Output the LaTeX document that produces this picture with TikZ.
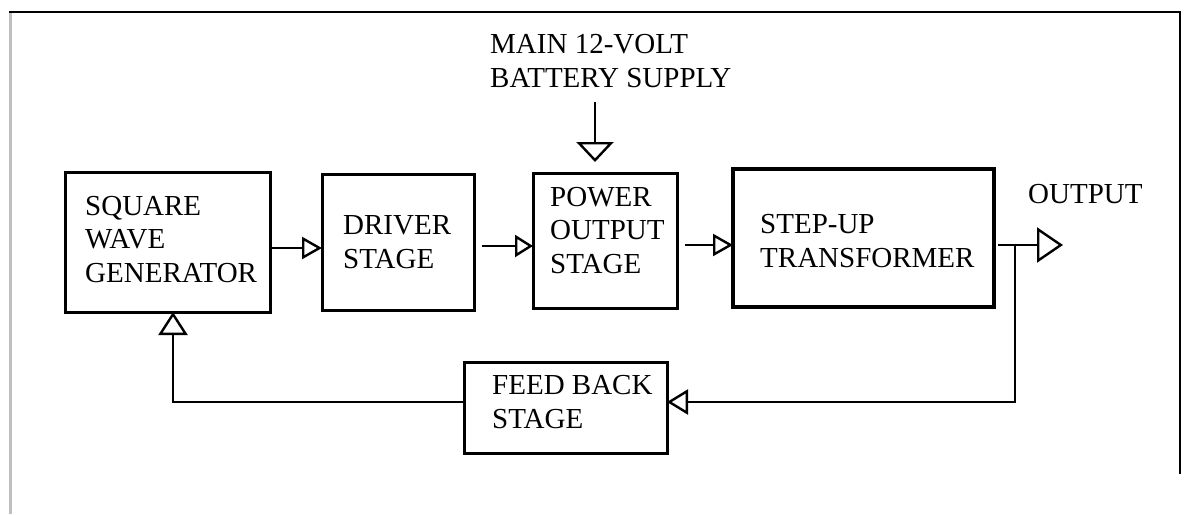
\documentclass[tikz,border=0pt]{standalone}
\usepackage{fontspec}
\setmainfont{Liberation Serif}
\usetikzlibrary{arrows.meta}
\begin{document}
\begin{tikzpicture}[x=1pt,y=-1pt,
  blk/.style={draw=black,line width=3pt,inner sep=0pt,outer sep=0pt,minimum width=#1},
  txt/.style={anchor=base west,align=left,inner sep=0pt,font=\fontsize{29}{33.5}\selectfont},
  conn/.style={draw=black,line width=2.4pt},
]
\useasboundingbox (0,0) rectangle (1185,514);
% frame
\draw[line width=3pt,black!25] (10,12) -- (10,514);
\draw[line width=2.8pt] (9,12) -- (1181,12);
\draw[line width=2.4pt] (1180,11) -- (1180,474);

% boxes
\node[blk=205pt,minimum height=140pt] (sq) at (167.5,242) {};
\node[blk=152pt,minimum height=136pt] (drv) at (398,242) {};
\node[blk=144pt,minimum height=135pt] (pwr) at (605,240.5) {};
\node[blk=261pt,minimum height=138pt,line width=3.6pt] (stp) at (863.5,238) {};
\node[blk=203pt,minimum height=91pt] (fb) at (565.5,407.5) {};

% texts (anchor = baseline of the last line)
\node[txt] (tsq) at (85,282) {SQUARE\\WAVE\\GENERATOR};
\node[txt] (tdrv) at (343,268) {DRIVER\\STAGE};
\node[txt] (tpwr) at (550,273) {POWER\\OUTPUT\\STAGE};
\node[txt] (tstp) at (760,267) {STEP-UP\\TRANSFORMER};
\node[txt] (tfb) at (492,428) {FEED BACK\\STAGE};
\node[txt] (tbat) at (490,87) {MAIN 12-VOLT\\BATTERY SUPPLY};
\node[txt] (tout) at (1028,203) {OUTPUT};

% connectors
\coordinate (b1) at (595,102);
\coordinate (b2) at (595,162);
\draw[conn,-{Triangle[open,length=20pt,width=37pt,line width=2.4pt]}] (b1) -- (b2);

\draw[conn,-{Triangle[open,length=20pt,width=22pt,line width=2.4pt]}]
  ([yshift=-6pt]sq.east) -- ([yshift=-6pt]sq.east -| drv.west);
\draw[conn,-{Triangle[open,length=18pt,width=22pt,line width=2.4pt]}]
  ([yshift=-4pt,xshift=8pt]drv.east) -- ([yshift=-4pt]drv.east -| pwr.west);
\draw[conn,-{Triangle[open,length=20pt,width=22pt,line width=2.4pt]}]
  ([yshift=-4.5pt,xshift=8pt]pwr.east) -- ([yshift=-4.5pt]pwr.east -| stp.west);

\coordinate (out) at (1063,245);
\coordinate (br) at (1015,245);
\draw[conn,-{Triangle[open,length=26pt,width=35pt,line width=2.4pt]}]
  ([yshift=-7pt,xshift=4pt]stp.east) -- (out);
\coordinate (brd) at (1015,402);
\draw[conn,-{Triangle[open,length=21pt,width=25pt,line width=2.4pt]}]
  (br) -- (brd) -- ([yshift=5.5pt]fb.east);
\coordinate (fl) at (173,402);
\draw[conn,-{Triangle[open,length=23pt,width=29pt,line width=2.4pt]}]
  ([yshift=5.5pt]fb.west) -- (fl) -- (fl |- sq.south);
\end{tikzpicture}
\end{document}
